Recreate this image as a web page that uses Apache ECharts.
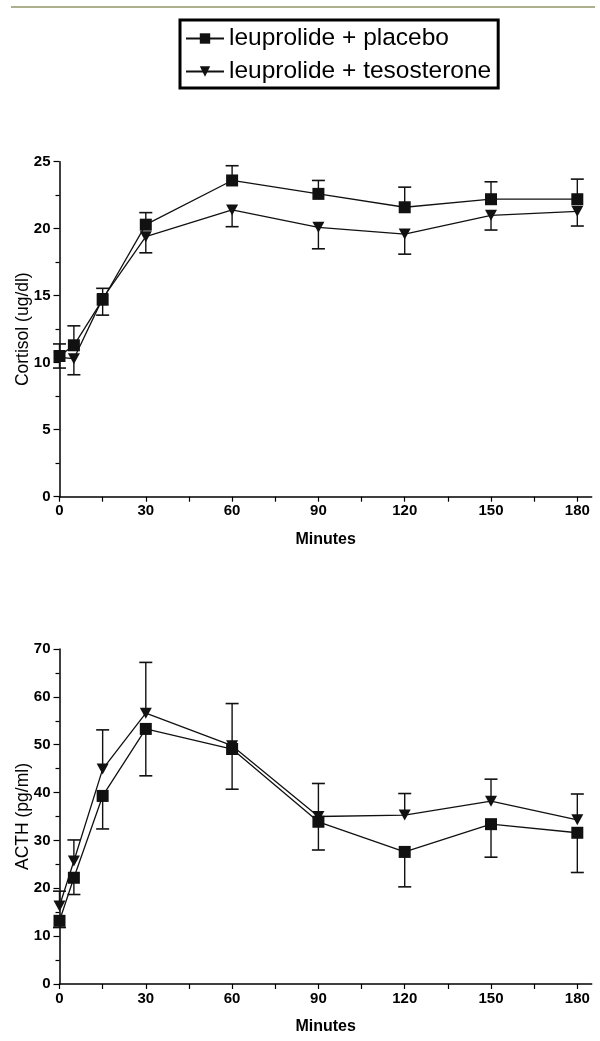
<!DOCTYPE html>
<html>
<head>
<meta charset="utf-8">
<script src="https://cdn.jsdelivr.net/npm/echarts@6/dist/echarts.min.js"></script>
<style>
html,body{margin:0;padding:0;background:#fff;}
#chart{width:600px;height:1041px;}
</style>
</head>
<body>
<div id="chart"></div>
<script>
// ---- data ----
const minutes = [0, 5, 15, 30, 60, 90, 120, 150, 180];
const seriesNames = ['leuprolide + placebo', 'leuprolide + tesosterone'];

const cortisolPlacebo    = [10.5, 11.3, 14.7, 20.3, 23.6, 22.6, 21.6, 22.2, 22.2];
const cortisolPlaceboErr = [0.9, 1.45, 0.85, 0.9, 1.1, 1.0, 1.5, 1.3, 1.5];   // drawn upward
const cortisolTesto      = [10.4, 10.3, 14.8, 19.4, 21.4, 20.1, 19.6, 21.0, 21.3];
const cortisolTestoErr   = [0.8, 1.2, 1.25, 1.2, 1.25, 1.6, 1.5, 1.1, 1.1];   // drawn downward

const acthPlacebo    = [13.2, 22.2, 39.3, 53.3, 49.1, 33.9, 27.6, 33.4, 31.6];
const acthPlaceboErr = [1.4, 3.5, 6.9, 9.8, 8.4, 5.9, 7.3, 6.9, 8.3];        // drawn downward
const acthTesto      = [16.3, 25.7, 44.9, 56.6, 49.8, 35.0, 35.3, 38.2, 34.3];
const acthTestoErr   = [3.1, 4.4, 8.2, 10.6, 8.8, 6.9, 4.5, 4.6, 5.4];       // drawn upward

const xTicks  = [0, 15, 30, 45, 60, 75, 90, 105, 120, 135, 150, 165, 180];
const xLabels = [0, 30, 60, 90, 120, 150, 180];

// ---- helpers ----
const FONT = "'Liberation Sans', Arial, sans-serif";
const INK = '#111';
const squareSym = 'rect';
const triSym = 'path://M0,0L10,0L5,9Z';

function pairs(ys) { return minutes.map((x, i) => [x, ys[i]]); }
function errData(ys, es, dir) { return minutes.map((x, i) => [x, ys[i], ys[i] + dir * es[i]]); }

function errRender(params, api) {
  const x = api.value(0), m = api.value(1), e = api.value(2);
  const p1 = api.coord([x, m]);
  const p2 = api.coord([x, e]);
  const hw = 6.5;
  return {
    type: 'group',
    children: [
      { type: 'line', shape: { x1: p1[0], y1: p1[1], x2: p2[0], y2: p2[1] }, style: { stroke: INK, lineWidth: 1.4 } },
      { type: 'line', shape: { x1: p2[0] - hw, y1: p2[1], x2: p2[0] + hw, y2: p2[1] }, style: { stroke: INK, lineWidth: 1.6 } }
    ]
  };
}

function xAxis(gi) {
  return {
    type: 'value', gridIndex: gi, min: 0, max: 185,
    name: 'Minutes', nameLocation: 'middle', nameGap: 35, nameMoveOverlap: false,
    nameTextStyle: { fontFamily: FONT, fontWeight: 'bold', fontSize: 16, color: '#000' },
    axisLine: { show: true, onZero: false, lineStyle: { color: '#000', width: 1.5 } },
    axisTick: { show: true, length: 5, customValues: xTicks, lineStyle: { color: '#000', width: 1.2 } },
    axisLabel: { customValues: xLabels, margin: 7, fontFamily: FONT, fontWeight: 'bold', fontSize: 15, color: '#000' },
    splitLine: { show: false }
  };
}
function yAxis(gi, name, max, interval) {
  return {
    type: 'value', gridIndex: gi, min: 0, max: max, interval: interval,
    name: name, nameLocation: 'middle', nameGap: 27, nameMoveOverlap: false,
    nameTextStyle: { fontFamily: FONT, fontSize: 17.5, color: '#000' },
    axisLine: { show: true, lineStyle: { color: '#000', width: 1.5 } },
    axisTick: { show: true, length: 6, lineStyle: { color: '#000', width: 1.2 } },
    minorTick: { show: true, splitNumber: 2, length: 4, lineStyle: { color: '#000', width: 1.2 } },
    axisLabel: { margin: 9, fontFamily: FONT, fontWeight: 'bold', fontSize: 15, color: '#000' },
    splitLine: { show: false }, minorSplitLine: { show: false }
  };
}
function lineSeries(name, gi, ys, sym, size) {
  return {
    type: 'line', name: name, xAxisIndex: gi, yAxisIndex: gi, data: pairs(ys),
    symbol: sym, symbolSize: size, showSymbol: true, animation: false,
    lineStyle: { color: INK, width: 1.3 }, itemStyle: { color: INK }, z: 3
  };
}
function errSeries(gi, ys, es, dir) {
  return {
    type: 'custom', xAxisIndex: gi, yAxisIndex: gi, data: errData(ys, es, dir),
    renderItem: errRender, animation: false, silent: true, z: 2,
    encode: { x: 0, y: [1, 2] }
  };
}

const chart = echarts.init(document.getElementById('chart'), null, { renderer: 'canvas' });
chart.setOption({
  animation: false,
  backgroundColor: '#fff',
  graphic: [{
    type: 'line', shape: { x1: 11, y1: 7, x2: 595, y2: 7 },
    style: { stroke: '#adb08c', lineWidth: 2 }
  }],
  legend: {
    data: seriesNames,
    orient: 'vertical', left: 180, top: 20,
    padding: [6, 7, 4, 5], itemGap: 8,
    itemWidth: 38, itemHeight: 13,
    borderColor: '#000', borderWidth: 3, borderRadius: 0,
    textStyle: { fontFamily: FONT, fontSize: 24.5, color: '#000' }
  },
  grid: [
    { left: 59.5, top: 161.7, width: 532.2, height: 335 },
    { left: 59.5, top: 649, width: 532.2, height: 335 }
  ],
  xAxis: [xAxis(0), xAxis(1)],
  yAxis: [yAxis(0, 'Cortisol (ug/dl)', 25, 5), yAxis(1, 'ACTH (pg/ml)', 70, 10)],
  series: [
    errSeries(0, cortisolPlacebo, cortisolPlaceboErr, 1),
    errSeries(0, cortisolTesto, cortisolTestoErr, -1),
    lineSeries(seriesNames[0], 0, cortisolPlacebo, squareSym, 12),
    lineSeries(seriesNames[1], 0, cortisolTesto, triSym, [12, 11]),
    errSeries(1, acthPlacebo, acthPlaceboErr, -1),
    errSeries(1, acthTesto, acthTestoErr, 1),
    lineSeries(seriesNames[0], 1, acthPlacebo, squareSym, 12),
    lineSeries(seriesNames[1], 1, acthTesto, triSym, [12, 11])
  ]
});
</script>
</body>
</html>
